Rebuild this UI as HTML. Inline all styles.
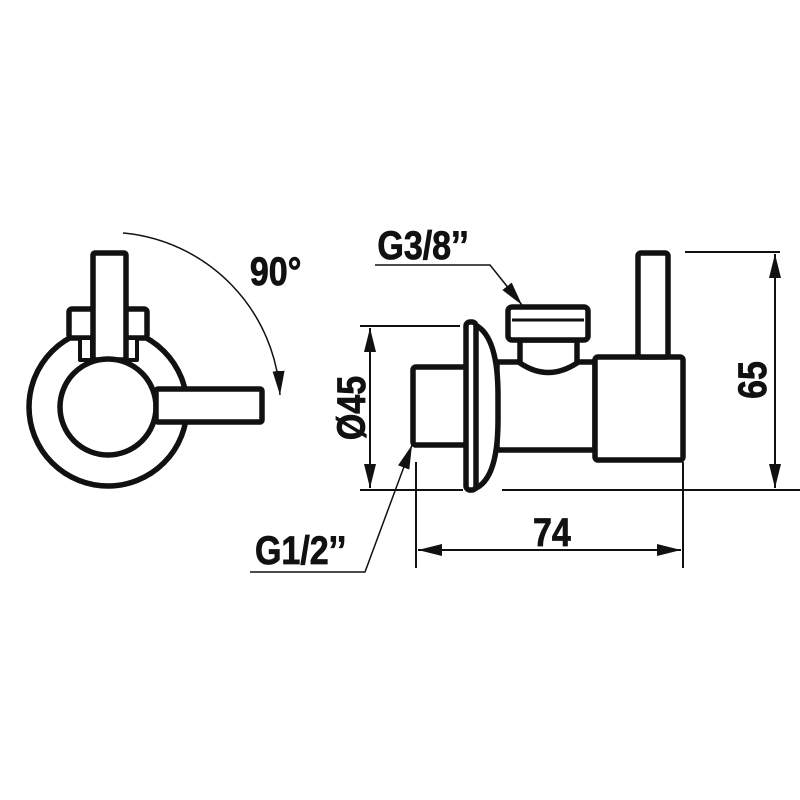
<!DOCTYPE html>
<html><head><meta charset="utf-8"><style>body{margin:0;background:#fff}svg{display:block}
text{font-family:"Liberation Sans",sans-serif;font-weight:bold;fill:#111;stroke:#111;stroke-width:0.8}</style></head>
<body><svg width="800" height="800" viewBox="0 0 800 800">
<defs><marker id="b" viewBox="0 0 20 10" refX="20" refY="5" markerWidth="24" markerHeight="12" orient="auto-start-reverse" markerUnits="userSpaceOnUse"><path d="M0,0L20,5L0,10z" fill="#111"/></marker></defs>
<g fill="#fff" stroke="#111" stroke-width="5.5" stroke-linejoin="round">
<circle cx="108" cy="407" r="79"/>
<rect x="69" y="309" width="78" height="29" rx="3"/>
<rect x="80" y="338" width="12" height="22" stroke-width="4"/>
<rect x="126" y="338" width="11" height="22" stroke-width="4"/>
<rect x="93" y="253" width="33" height="107" rx="2"/>
<circle cx="108" cy="407" r="48"/>
<rect x="156" y="389" width="106" height="33" rx="2"/>
<rect x="413" y="367" width="57" height="78" rx="3"/>
<rect x="497" y="387" width="25" height="33"/>
<path d="M497,362H595V450H497Z"/>
<path d="M520,340V363Q548,382 577,363V340Z"/>
<rect x="508" y="307" width="80" height="33" rx="4"/>
<line x1="512" y1="320" x2="584" y2="320" stroke-width="3"/>
<path d="M470,323Q498,330 498,395V420Q498,485 470,490Z" />
<rect x="466" y="322" width="10" height="168" rx="4"/>
<rect x="595" y="357" width="88" height="103" rx="3"/>
<rect x="638" y="253" width="30" height="104" rx="3"/>
</g>
<g stroke="#111" stroke-width="2" fill="none">
<path d="M123,233A173,173 0 0 1 280,395" stroke-width="1.5" marker-end="url(#b)"/>
<line x1="360" y1="326" x2="460" y2="326"/>
<line x1="360" y1="490" x2="463" y2="490"/>
<line x1="502" y1="490" x2="800" y2="490"/>
<line x1="370" y1="328" x2="370" y2="488" marker-start="url(#b)" marker-end="url(#b)"/>
<line x1="685" y1="252" x2="780" y2="252"/>
<line x1="775" y1="254" x2="775" y2="488" marker-start="url(#b)" marker-end="url(#b)"/>
<line x1="416" y1="462" x2="416" y2="568"/>
<line x1="683" y1="462" x2="683" y2="568"/>
<line x1="418" y1="550" x2="681" y2="550" marker-start="url(#b)" marker-end="url(#b)"/>
<polyline points="375,265 490,265 522,305" stroke-width="1.5" marker-end="url(#b)"/>
<polyline points="250,572 365,572 412,445" stroke-width="1.5" marker-end="url(#b)"/>
</g>
<g transform="scale(0.85,1)">
<text x="294" y="285" font-size="40">90°</text>
<text x="444" y="259" font-size="40">G3/8’’</text>
<text x="300" y="564" font-size="40">G1/2’’</text>
<text x="627" y="546" font-size="40">74</text>
</g>
<text transform="translate(365,408) rotate(-90) scale(0.85,1)" text-anchor="middle" font-size="40">Ø45</text>
<text transform="translate(766,380) rotate(-90) scale(0.85,1)" text-anchor="middle" font-size="40">65</text>
</svg></body></html>
